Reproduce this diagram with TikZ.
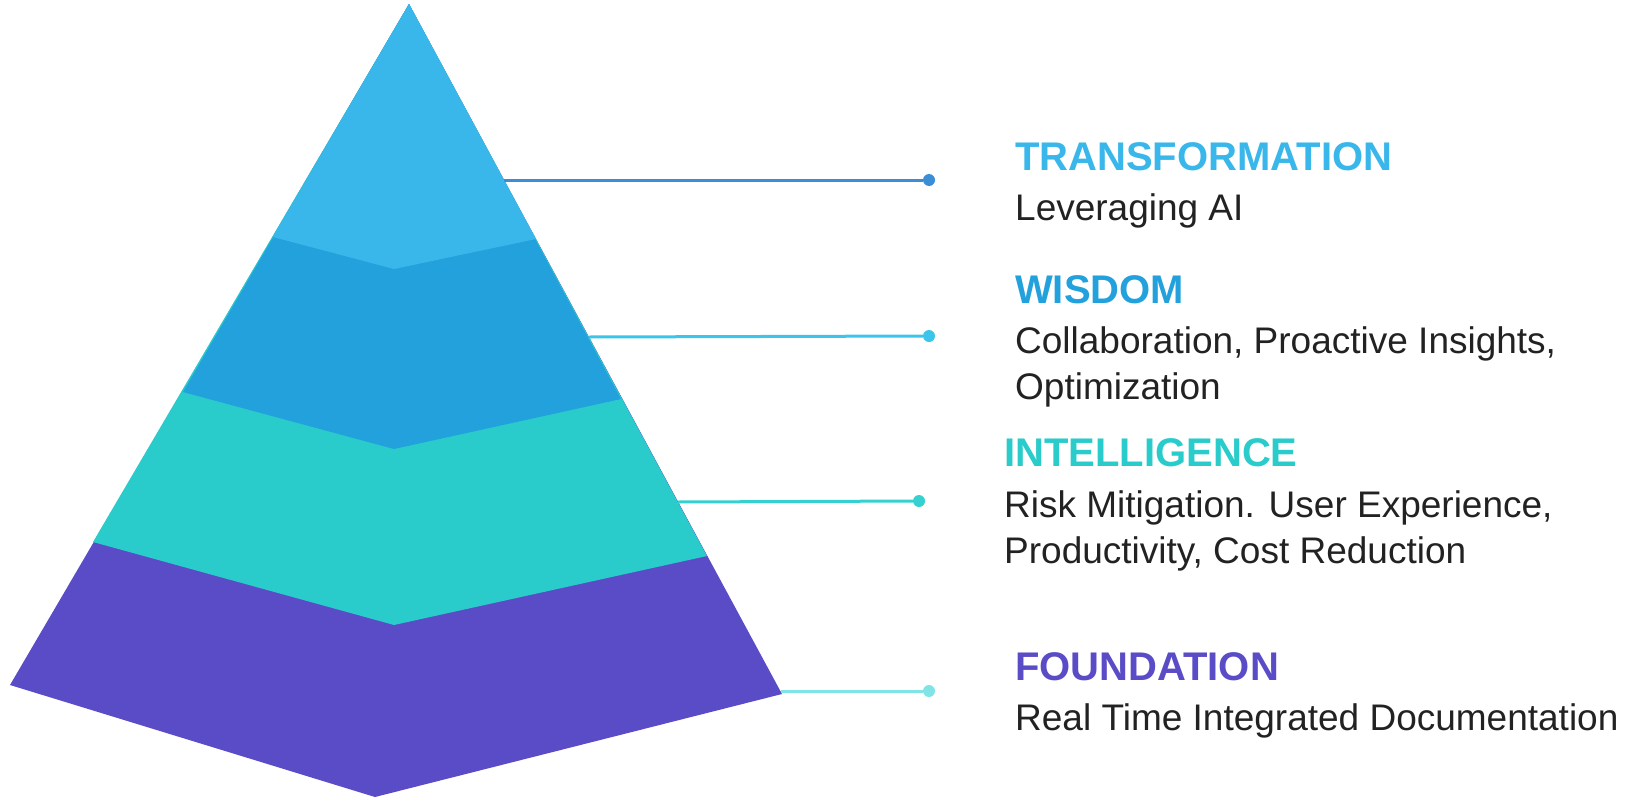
\documentclass[tikz,border=0pt]{standalone}
\usepackage{fontspec}
\setmainfont{Liberation Sans}
\definecolor{tiertop}{HTML}{3AB7EA}
\definecolor{tiertwo}{HTML}{22A1DC}
\definecolor{tierthree}{HTML}{29CBCB}
\definecolor{tierbase}{HTML}{5A4BC6}
\definecolor{lineone}{HTML}{3A8ED6}
\definecolor{linetwo}{HTML}{3CC5EA}
\definecolor{linethree}{HTML}{35D0D0}
\definecolor{linefour}{HTML}{80E4E4}
\definecolor{bodytext}{HTML}{222222}
\begin{document}
\begin{tikzpicture}
  [x=1pt,y=-1pt,
   every node/.style={inner sep=0pt},
   dot/.style={circle,minimum size=12pt},
   head/.style={anchor=base west,font=\fontsize{40}{48}\selectfont\bfseries},
   body/.style={anchor=base west,align=left,text=bodytext,font=\fontsize{37}{46}\selectfont}]

  \useasboundingbox (0,0) rectangle (1644,798);

  % pyramid, painted from the base up
  \fill[tierbase]  (409,4) -- (10,685) -- (375,797) -- (782,694) -- cycle;
  \fill[tierthree] (409,4) -- (93,542) -- (394,625) -- (707,556) -- cycle;
  \fill[tiertwo]   (409,4) -- (183,392) -- (394,449) -- (621,399) -- cycle;
  \fill[tiertop]   (409,4) -- (273,237) -- (394,269) -- (536,239) -- cycle;

  \coordinate (e1) at (504,180);
  \coordinate (e2) at (589,337);
  \coordinate (e3) at (678,502);
  \coordinate (e4) at (781,691);

  \node[dot,fill=lineone]   (d1) at (929,180) {};
  \node[dot,fill=linetwo]   (d2) at (929,336) {};
  \node[dot,fill=linethree] (d3) at (919,501) {};
  \node[dot,fill=linefour]  (d4) at (929,691) {};

  % multi-line texts sit on the baseline of their last line
  \node[head,text=tiertop]   (h1) at (1015,170) {TRANSFORMATION};
  \node[body]                (b1) at (1015,220) {Leveraging AI};
  \node[head,text=tiertwo]   (h2) at (1015,303) {WISDOM};
  \node[body]                (b2) at (1015,399) {Collaboration, Proactive Insights,\\Optimization};
  \node[head,text=tierthree] (h3) at (1004,466) {INTELLIGENCE};
  \node[body]                (b3) at (1004,563) {Risk Mitigation. User Experience,\\Productivity, Cost Reduction};
  \node[head,text=tierbase]  (h4) at (1015,680) {FOUNDATION};
  \node[body]                (b4) at (1015,730) {Real Time Integrated Documentation};

  \foreach \from/\to/\col in {e1/d1/lineone,e2/d2/linetwo,e3/d3/linethree,e4/d4/linefour}
    \draw[\col,line width=3pt] (\from) -- (\to);
\end{tikzpicture}
\end{document}
